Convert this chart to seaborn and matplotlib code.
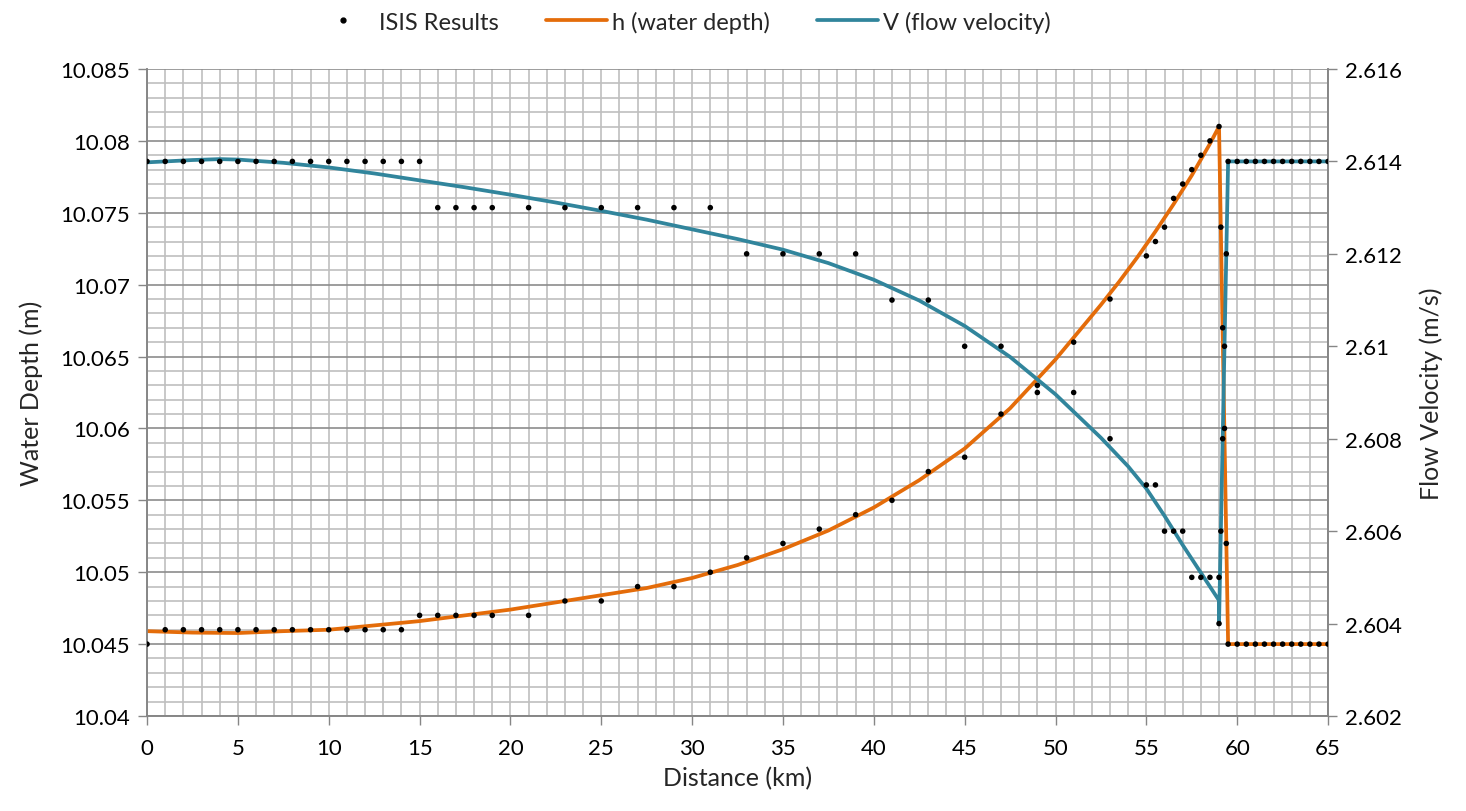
import numpy as np
import pandas as pd
import seaborn as sns
import matplotlib.pyplot as plt
from matplotlib.ticker import MultipleLocator, FuncFormatter
from matplotlib.lines import Line2D

sns.set_style("white")
plt.rcParams['font.family'] = ['Lato', 'DejaVu Sans']

# model curve: water depth h (left axis)
h_x = [0, 2.5, 5, 7.5, 10, 12.5, 15, 17.5, 20, 22.5, 25, 27.5, 30, 32.5, 35, 37.5,
       40, 42.5, 45, 47.5, 50, 52.5, 53.5, 54.5, 55.5, 56.5, 57.5, 58.5, 59, 59.5, 65]
h_y = [10.0459, 10.04580, 10.04577, 10.0459, 10.0460, 10.0463, 10.0466, 10.0470,
       10.0474, 10.0479, 10.0484, 10.0489, 10.0496, 10.0505, 10.0516, 10.0529,
       10.0545, 10.0564, 10.0586, 10.0614, 10.0648, 10.0686, 10.0702, 10.0719,
       10.0737, 10.0756, 10.0776, 10.0798, 10.0810, 10.045, 10.045]

# model curve: flow velocity V (right axis)
v_x = [0, 2.5, 4, 5, 7.5, 10, 12.5, 15, 17.5, 20, 22.5, 25, 27.5, 30, 32.5, 35, 37.5,
       40, 42.5, 45, 47.5, 50, 52.5, 54, 55, 56, 57, 58, 59, 59, 59.5, 65]
v_y = [2.61398, 2.61403, 2.61405, 2.61404, 2.61397, 2.61387, 2.61374, 2.61359,
       2.61344, 2.61328, 2.61311, 2.61293, 2.61274, 2.61253, 2.61232, 2.61209,
       2.61180, 2.61144, 2.61099, 2.61044, 2.60977, 2.60896, 2.60802, 2.60740,
       2.60692, 2.60633, 2.60570, 2.60510, 2.60450, 2.60400, 2.61400, 2.61400]

# ISIS results
tail_x = [59.5, 60, 60.5, 61, 61.5, 62, 62.5, 63, 63.5, 64, 64.5, 65]
isis_hx = (list(range(0, 20)) + list(range(21, 56, 2))
           + [55.5, 56, 56.5, 57, 57.5, 58, 58.5, 59, 59.1, 59.2, 59.3, 59.4] + tail_x)
isis_hy = ([10.045] + [10.046] * 14 + [10.047] * 5
           + [10.047, 10.048, 10.048, 10.049, 10.049, 10.050, 10.051, 10.052, 10.053,
              10.054, 10.055, 10.057, 10.058, 10.061, 10.063, 10.066, 10.069, 10.072]
           + [10.073, 10.074, 10.076, 10.077, 10.078, 10.079, 10.080, 10.081,
              10.074, 10.067, 10.060, 10.052] + [10.045] * 12)

isis_vx = (list(range(0, 20)) + list(range(21, 56, 2))
           + [55.5, 56, 56.5, 57, 57.5, 58, 58.5, 59, 59, 59.1, 59.2, 59.3, 59.4] + tail_x)
isis_vy = ([2.614] * 16 + [2.613] * 4
           + [2.613, 2.613, 2.613, 2.613, 2.613, 2.613, 2.612, 2.612, 2.612, 2.612,
              2.611, 2.611, 2.610, 2.610, 2.609, 2.609, 2.608, 2.607]
           + [2.607, 2.606, 2.606, 2.606, 2.605, 2.605, 2.605, 2.605, 2.604,
              2.606, 2.608, 2.610, 2.612] + [2.614] * 12)

h_line = pd.DataFrame({"x": h_x, "y": h_y})
v_line = pd.DataFrame({"x": v_x, "y": v_y})
isis_h = pd.DataFrame({"x": isis_hx, "y": isis_hy})
isis_v = pd.DataFrame({"x": isis_vx, "y": isis_vy})

orange = "#E46C0A"
teal = "#31859C"

fig = plt.figure(figsize=(14.66, 8.12), dpi=100)
ax = fig.add_axes([0.1003, 0.1170, 0.8056, 0.7968])

sns.lineplot(data=h_line, x="x", y="y", ax=ax, color=orange, lw=2.7,
             estimator=None, sort=False, zorder=3)
ax.set_xlim(0, 65)
ax.set_ylim(10.04, 10.085)

ax2 = ax.twinx()
sns.lineplot(data=v_line, x="x", y="y", ax=ax2, color=teal, lw=2.7,
             estimator=None, sort=False, zorder=3)
sns.scatterplot(data=isis_v, x="x", y="y", ax=ax2, color="black", s=16,
                edgecolor="none", zorder=4)
ax2.set_ylim(2.602, 2.616)

ax3 = ax.twinx()
sns.scatterplot(data=isis_h, x="x", y="y", ax=ax3, color="black", s=16,
                edgecolor="none", zorder=4)
ax3.set_ylim(10.04, 10.085)
ax3.axis("off")

fmt = FuncFormatter(lambda v, p: f"{v:.3f}".rstrip("0").rstrip("."))

ax.xaxis.set_major_locator(MultipleLocator(5))
ax.xaxis.set_minor_locator(MultipleLocator(1))
ax.yaxis.set_major_locator(MultipleLocator(0.005))
ax.yaxis.set_minor_locator(MultipleLocator(0.001))
ax.yaxis.set_major_formatter(fmt)
ax.grid(True, which="minor", color="#BFBFBF", lw=1.2)
ax.grid(True, which="major", axis="x", color="#BFBFBF", lw=1.2)
ax.grid(True, which="major", axis="y", color="#8C8C8C", lw=1.2)
ax.set_axisbelow(True)

ax2.yaxis.set_major_locator(MultipleLocator(0.002))
ax2.yaxis.set_major_formatter(fmt)

for a in (ax, ax2):
    a.tick_params(which="major", length=6.5, width=1, color="#868686",
                  labelsize=16, labelcolor="black", pad=6)
    a.tick_params(which="minor", length=0)
    for side in ("left", "right", "bottom"):
        a.spines[side].set_color("#868686")
        a.spines[side].set_linewidth(1.2)
    a.spines["top"].set_visible(False)
ax.tick_params(axis="x", bottom=True, pad=9)
ax.tick_params(axis="y", left=True)
ax2.tick_params(axis="y", right=True)

ax.set_xlabel("Distance (km)", fontsize=18, labelpad=6)
ax.set_ylabel("Water Depth (m)", fontsize=18, labelpad=12)
ax2.set_ylabel("Flow Velocity (m/s)", fontsize=18, labelpad=12)

handles = [
    Line2D([], [], ls="none", marker="o", color="black", markersize=3.5),
    Line2D([], [], color=orange, lw=2.7),
    Line2D([], [], color=teal, lw=2.7),
]
labels = ["ISIS Results", "h (water depth)", "V (flow velocity)"]
fig.legend(handles, labels, loc="upper center", bbox_to_anchor=(0.465, 1.012),
           ncol=3, frameon=False, fontsize=17, handlelength=2.6,
           handletextpad=0.2, columnspacing=2.0)

fig.savefig("out.png", dpi=100)
